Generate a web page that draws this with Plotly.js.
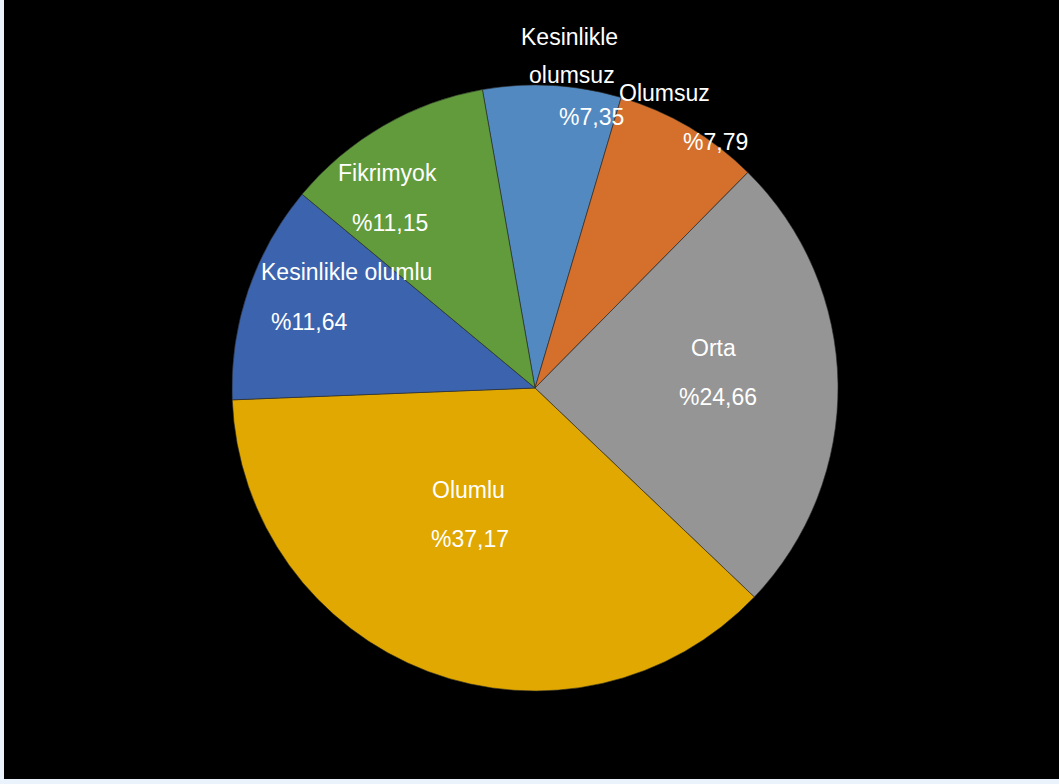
<!DOCTYPE html>
<html>
<head>
<meta charset="utf-8">
<script src="https://cdn.plot.ly/plotly-3.0.1.min.js"></script>
<style>
html,body{margin:0;padding:0;background:#EAF2FB;width:1059px;height:784px;overflow:hidden;}
#chart{position:absolute;left:4px;top:0;width:1055px;height:779px;}
</style>
</head>
<body>
<div id="chart"></div>
<script>
const categories = ["Kesinlikle olumsuz", "Olumsuz", "Orta", "Olumlu", "Kesinlikle olumlu", "Fikrimyok"];
const values = [7.35, 7.79, 24.66, 37.17, 11.64, 11.15];
const valueLabels = ["%7,35", "%7,79", "%24,66", "%37,17", "%11,64", "%11,15"];
const colors = ["#5189C0", "#D4702C", "#959595", "#E0A800", "#3C64AE", "#619B3C"];

const W = 1055, H = 779;
// label line positions (pixels in chart div) — text placement only
const labelLines = [
  [["Kesinlikle", 565, 37], ["olumsuz", 568, 75], [valueLabels[0], 587, 117]],
  [["Olumsuz", 660, 93], [valueLabels[1], 711, 142]],
  [["Orta", 709, 348], [valueLabels[2], 714, 397]],
  [["Olumlu", 464, 490], [valueLabels[3], 466, 539]],
  [["Kesinlikle olumlu", 342, 272], [valueLabels[4], 305, 322]],
  [["Fikrimyok", 383, 173], [valueLabels[5], 386, 223]]
];
const annotations = [];
labelLines.forEach(lines => lines.forEach(([t, x, y]) => {
  annotations.push({
    text: t, x: x / W, y: 1 - y / H, xref: "paper", yref: "paper",
    xanchor: "center", yanchor: "middle", showarrow: false,
    font: {family: "Liberation Sans, Arial, sans-serif", size: 23, color: "#FFFFFF"}
  });
}));

const cx = 531, cy = 388, r = 303;
const trace = {
  type: "pie",
  labels: categories,
  values: values,
  sort: false,
  direction: "clockwise",
  rotation: -10,
  marker: {colors: colors, line: {color: "#2a2a2a", width: 0.6}},
  textinfo: "none",
  hoverinfo: "label+value",
  showlegend: false,
  domain: {x: [(cx - r) / W, (cx + r) / W], y: [(H - cy - r) / H, (H - cy + r) / H]}
};
const layout = {
  width: W, height: H,
  margin: {l: 0, r: 0, t: 0, b: 0},
  paper_bgcolor: "#000000",
  plot_bgcolor: "#000000",
  showlegend: false,
  annotations: annotations
};
Plotly.newPlot("chart", [trace], layout, {displayModeBar: false, staticPlot: true});
</script>
</body>
</html>
